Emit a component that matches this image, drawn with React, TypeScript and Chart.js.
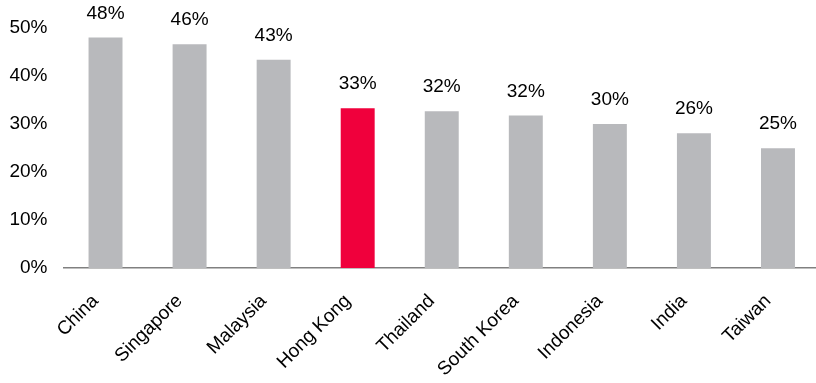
import React, { useEffect, useRef } from 'react';
import { Chart, registerables } from 'chart.js';

Chart.register(...registerables);

const categories = ['China', 'Singapore', 'Malaysia', 'Hong Kong', 'Thailand', 'South Korea', 'Indonesia', 'India', 'Taiwan'];
const values = [47.9, 46.5, 43.3, 33.2, 32.6, 31.7, 29.9, 28.0, 24.9];
const valueLabels = ['48%', '46%', '43%', '33%', '32%', '32%', '30%', '26%', '25%'];
const highlightCategory = 'Hong Kong';
const yTicks = [0, 10, 20, 30, 40, 50];

const GRAY = '#B8B9BC';
const RED = '#F0003C';
const FONT = "'Liberation Sans', Arial, sans-serif";

const valueLabelPlugin = {
  id: 'valueLabelPlugin',
  afterDatasetsDraw(chart: any) {
    const ctx = chart.ctx;
    const meta = chart.getDatasetMeta(0);
    ctx.save();
    ctx.font = `19px ${FONT}`;
    ctx.fillStyle = '#000';
    ctx.textAlign = 'center';
    ctx.textBaseline = 'middle';
    meta.data.forEach((el: any, i: number) => {
      ctx.fillText(valueLabels[i], el.x, el.y - 24);
    });
    ctx.restore();
  },
};

export default function App() {
  const ref = useRef<HTMLCanvasElement | null>(null);

  useEffect(() => {
    document.body.style.margin = '0';
    if (!ref.current) return;
    const chart = new Chart(ref.current, {
      type: 'bar',
      data: {
        labels: categories,
        datasets: [
          {
            data: values,
            backgroundColor: categories.map((c) => (c === highlightCategory ? RED : GRAY)),
            borderWidth: 0,
            categoryPercentage: 1,
            barPercentage: 0.404,
          },
        ],
      },
      options: {
        responsive: false,
        animation: false,
        layout: { padding: { top: 27, left: 0, right: 0, bottom: 0 } },
        plugins: { legend: { display: false }, tooltip: { enabled: false } },
        scales: {
          x: {
            grid: { display: false, drawTicks: false },
            border: { display: true, color: '#808080', width: 1.5 },
            ticks: {
              color: '#000',
              font: { size: 19, family: FONT },
              minRotation: 45,
              maxRotation: 45,
              autoSkip: false,
              padding: 22,
              labelOffset: -10,
            },
            afterFit: (s: any) => {
              s.height = 383 - 268;
            },
          },
          y: {
            min: 0,
            max: 50,
            grid: { display: false, drawTicks: false },
            border: { display: false },
            afterBuildTicks: (s: any) => {
              s.ticks = yTicks.map((v) => ({ value: v }));
            },
            ticks: {
              color: '#000',
              font: { size: 19, family: FONT },
              padding: 16,
              callback: (v: any) => `${v}%`,
            },
            afterFit: (s: any) => {
              s.width = 63.5;
            },
          },
        },
      },
      plugins: [valueLabelPlugin],
    });
    return () => chart.destroy();
  }, []);

  return (
    <div style={{ position: 'fixed', left: 0, top: 0, width: 816, height: 383, overflow: 'hidden', background: '#fff' }}>
      <canvas ref={ref} width={820} height={383} style={{ display: 'block' }} />
    </div>
  );
}
